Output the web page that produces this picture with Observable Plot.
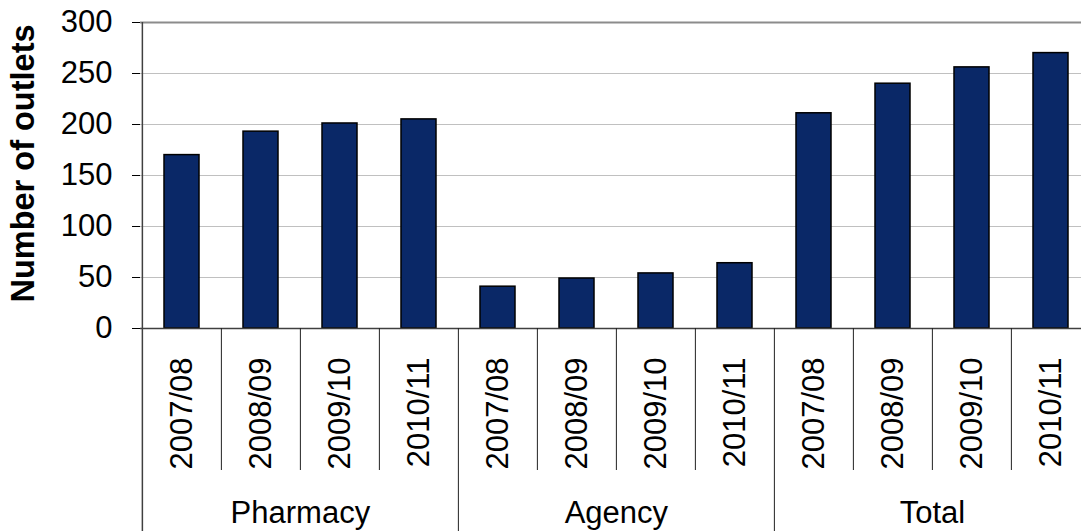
<!DOCTYPE html>
<html>
<head>
<meta charset="utf-8">
<script src="https://cdn.jsdelivr.net/npm/d3@7"></script>
<script src="https://cdn.jsdelivr.net/npm/@observablehq/plot@0.6"></script>
<style>
  html, body { margin: 0; padding: 0; background: #ffffff; overflow: hidden; }
  #chart svg { display: block; overflow: hidden; }
</style>
</head>
<body>
<div id="chart"></div>
<script>
// ---- data ----
const groups = ["Pharmacy", "Agency", "Total"];
const years = ["2007/08", "2008/09", "2009/10", "2010/11"];
const pharmacy = [170, 193, 201, 205];
const agency = [41, 49, 54, 64];
const total = [211, 240, 256, 270];
const yTicks = [0, 50, 100, 150, 200, 250, 300];
const gridTicks = [50, 100, 150, 200, 250];
const yLabel = "Number of outlets";

const seriesByGroup = [pharmacy, agency, total];
const rows = groups.flatMap((g, gi) =>
  years.map((yr, i) => ({group: g, year: yr, key: g + "|" + yr, value: seriesByGroup[gi][i], first: i === 0}))
);
const keys = rows.map(d => d.key);

const W = 1081, H = 531;
const xRange = [140, 1091];
const step = (xRange[1] - xRange[0]) / keys.length;
const axisColor = "#404040";
const font = "31px";

const chart = Plot.plot({
  width: W,
  height: H,
  marginTop: 22,
  marginBottom: 203,
  marginLeft: 140,
  marginRight: 0,
  style: {fontFamily: "'Liberation Sans', Arial, sans-serif", fontSize: font, color: "black", background: "white"},
  x: {type: "band", domain: keys, range: xRange, padding: 0, axis: null},
  y: {domain: [0, 300], ticks: yTicks, tickSize: 8, tickPadding: 20, label: null},
  marks: [
    Plot.ruleY(gridTicks, {stroke: "#c0c0c0", strokeWidth: 1}),
    Plot.ruleY([300], {stroke: "#8c8c8c", strokeWidth: 2}),
    Plot.barY(rows, {x: "key", y: "value", fill: "#0a2867", stroke: "#000000", strokeWidth: 1.5, insetLeft: 22, insetRight: 22}),
    Plot.ruleY([0], {stroke: axisColor, strokeWidth: 1.5}),
    // left axis line (extends down through the category area)
    Plot.ruleX([keys[0]], {dx: -step / 2, stroke: axisColor, strokeWidth: 1.5, insetBottom: -203}),
    // group separators
    Plot.ruleX(rows.filter(d => d.first && d.group !== groups[0]), {x: "key", y1: 0, y2: 0, dx: -step / 2, stroke: "#222", strokeWidth: 1, insetBottom: -203}),
    // year separators
    Plot.ruleX(rows.filter(d => !d.first), {x: "key", y1: 0, y2: 0, dx: -step / 2, stroke: "#222", strokeWidth: 1, insetBottom: -142}),
    // year labels
    Plot.text(rows, {x: "key", text: "year", frameAnchor: "bottom", rotate: -90, textAnchor: "end", lineAnchor: "middle", dy: 29, fontSize: 31, fill: "black"}),
    // group labels
    Plot.text(rows.filter((d, i) => i % 4 === 2), {x: "key", text: "group", frameAnchor: "bottom", dx: -step / 2, dy: 185, lineAnchor: "middle", fontSize: 31, fill: "black"}),
    // y label
    Plot.text([yLabel], {text: d => d, frameAnchor: "left", rotate: -90, textAnchor: "middle", lineAnchor: "middle", dx: -117, dy: -12, fontWeight: "bold", fontSize: 32.5, fill: "black"})
  ]
});
document.getElementById("chart").append(chart);
</script>
</body>
</html>
